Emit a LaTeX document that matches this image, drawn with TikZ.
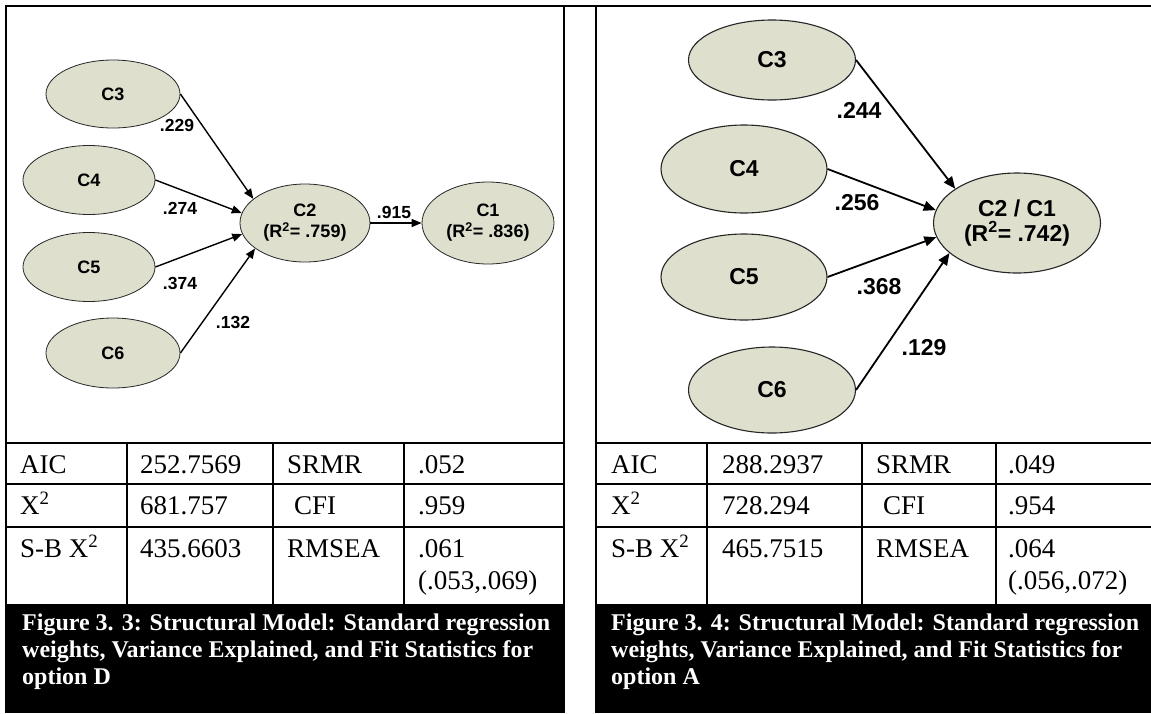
\documentclass[tikz,border=0pt]{standalone}
\usepackage{fontspec}
\setmainfont{Liberation Serif}
\newfontfamily\diagfont{Liberation Sans}
\usetikzlibrary{shapes.geometric,arrows.meta}

\definecolor{latentfill}{RGB}{222,224,205}

\begin{document}
\begin{tikzpicture}[x=1pt,y=-1pt,
  rulebox/.style={line width=1.8pt},
  cell/.style={anchor=base west, inner sep=0pt, font=\fontsize{27}{31}\selectfont},
  capline/.style={anchor=base west, inner sep=0pt, text=white, font=\fontsize{24}{27}\selectfont\bfseries},
  latentS/.style={ellipse, draw=black!85, line width=0.8pt, fill=latentfill, inner sep=0pt,
    align=center, font=\fontsize{18}{21}\selectfont\diagfont\bfseries},
  latentB/.style={ellipse, draw=black!85, line width=1.1pt, fill=latentfill, inner sep=0pt,
    align=center, font=\fontsize{23}{25}\selectfont\diagfont\bfseries},
  pathS/.style={line width=1.4pt, -{Triangle[length=10pt,width=8pt]}},
  pathB/.style={line width=1.8pt, -{Triangle[length=12pt,width=10pt]}},
  wS/.style={inner sep=0pt, font=\fontsize{17.5}{21}\selectfont\diagfont\bfseries},
  wB/.style={inner sep=0pt, font=\fontsize{23}{25}\selectfont\diagfont\bfseries}
]
\useasboundingbox (0,0) rectangle (1151,713);
\fill[white] (0,0) rectangle (1151,713);

% ---------- left panel: option D ----------
\node[latentS, minimum width=134pt, minimum height=68pt] (c3l) at (113,94) {C3};
\node[latentS, minimum width=132pt, minimum height=69pt] (c4l) at (89,180) {C4};
\node[latentS, minimum width=132pt, minimum height=69pt] (c5l) at (89,267) {C5};
\node[latentS, minimum width=134pt, minimum height=70pt] (c6l) at (113,353) {C6};
\node[latentS, minimum width=130pt, minimum height=78pt] (c2l) at (305,223) {C2\\(R\textsuperscript{2}= .759)};
\node[latentS, minimum width=132pt, minimum height=82pt] (c1l) at (488,223) {C1\\(R\textsuperscript{2}= .836)};

\draw[pathS] (c3l.east) -- (c2l.155);
\draw[pathS] (c4l.east) -- (c2l.171);
\draw[pathS] (c5l.east) -- (c2l.190);
\draw[pathS] (c6l.east) -- (c2l.207);
\draw[pathS] (c2l.east) -- (c1l.west);

\node[wS] (w229) at (177,125) {.229};
\node[wS] (w274) at (180,208) {.274};
\node[wS] (w374) at (180,283) {.374};
\node[wS] (w132) at (233,322) {.132};
\node[wS] (w915) at (394,212) {.915};

% ---------- right panel: option A ----------
\node[latentB, minimum width=167pt, minimum height=80pt] (c3r) at (772,60) {C3};
\node[latentB, minimum width=166pt, minimum height=88pt] (c4r) at (744,169) {C4};
\node[latentB, minimum width=166pt, minimum height=86pt] (c5r) at (744,277) {C5};
\node[latentB, minimum width=167pt, minimum height=86pt] (c6r) at (772,390) {C6};
\node[latentB, minimum width=167pt, minimum height=100pt] (c21r) at (1017,223) {C2 / C1\\(R\textsuperscript{2}= .742)};

\draw[pathB] (c3r.east) -- (c21r.151);
\draw[pathB] (c4r.east) -- (c21r.171);
\draw[pathB] (c5r.east) -- (c21r.190);
\draw[pathB] (c6r.east) -- (c21r.204);

\node[wB] (w244) at (859,110) {.244};
\node[wB] (w256) at (857,203) {.256};
\node[wB] (w368) at (879,287) {.368};
\node[wB] (w129) at (924,348) {.129};

% ---------- frames and table rules ----------
\draw[rulebox] (5.1,6) -- (1151,6);
\draw[rulebox] (6,6) -- (6,604);
\draw[rulebox] (564,6) -- (564,604);
\draw[rulebox] (596,6) -- (596,604);
\foreach \yy in {443,484,527} {
  \draw[rulebox] (6,\yy) -- (564,\yy);
  \draw[rulebox] (596,\yy) -- (1151,\yy);
}
\foreach \xx in {127,273,404,707,862,996} {
  \draw[rulebox] (\xx,443) -- (\xx,604);
}

% ---------- fit statistics, option D ----------
\node[cell] (la1) at (20,473) {AIC};
\node[cell] (lb1) at (140,473) {252.7569};
\node[cell] (lc1) at (287,473) {SRMR};
\node[cell] (ld1) at (418,473) {.052};
\node[cell] (la2) at (20,514) {X\textsuperscript{2}};
\node[cell] (lb2) at (140,514) {681.757};
\node[cell] (lc2) at (294,514) {CFI};
\node[cell] (ld2) at (418,514) {.959};
\node[cell] (la3) at (20,557) {S-B X\textsuperscript{2}};
\node[cell] (lb3) at (140,557) {435.6603};
\node[cell] (lc3) at (287,557) {RMSEA};
\node[cell] (ld3) at (418,557) {.061};
\node[cell] (ld4) at (418,589) {(.053,.069)};

% ---------- fit statistics, option A ----------
\node[cell] (ra1) at (611,473) {AIC};
\node[cell] (rb1) at (722,473) {288.2937};
\node[cell] (rc1) at (876,473) {SRMR};
\node[cell] (rd1) at (1008,473) {.049};
\node[cell] (ra2) at (611,514) {X\textsuperscript{2}};
\node[cell] (rb2) at (722,514) {728.294};
\node[cell] (rc2) at (883,514) {CFI};
\node[cell] (rd2) at (1008,514) {.954};
\node[cell] (ra3) at (611,557) {S-B X\textsuperscript{2}};
\node[cell] (rb3) at (722,557) {465.7515};
\node[cell] (rc3) at (876,557) {RMSEA};
\node[cell] (rd3) at (1008,557) {.064};
\node[cell] (rd4) at (1008,589) {(.056,.072)};

% ---------- captions ----------
\fill[black] (5,604) rectangle (565,713);
\fill[black] (595,604) rectangle (1151,713);
\node[capline] (capl1) at (22,630) {Figure 3. 3: Structural Model: Standard regression};
\node[capline] (capl2) at (22,657) {weights, Variance Explained, and Fit Statistics for};
\node[capline] (capl3) at (22,684) {option D};
\node[capline] (capr1) at (611,630) {Figure 3. 4: Structural Model: Standard regression};
\node[capline] (capr2) at (611,657) {weights, Variance Explained, and Fit Statistics for};
\node[capline] (capr3) at (611,684) {option A};
\end{tikzpicture}
\end{document}
